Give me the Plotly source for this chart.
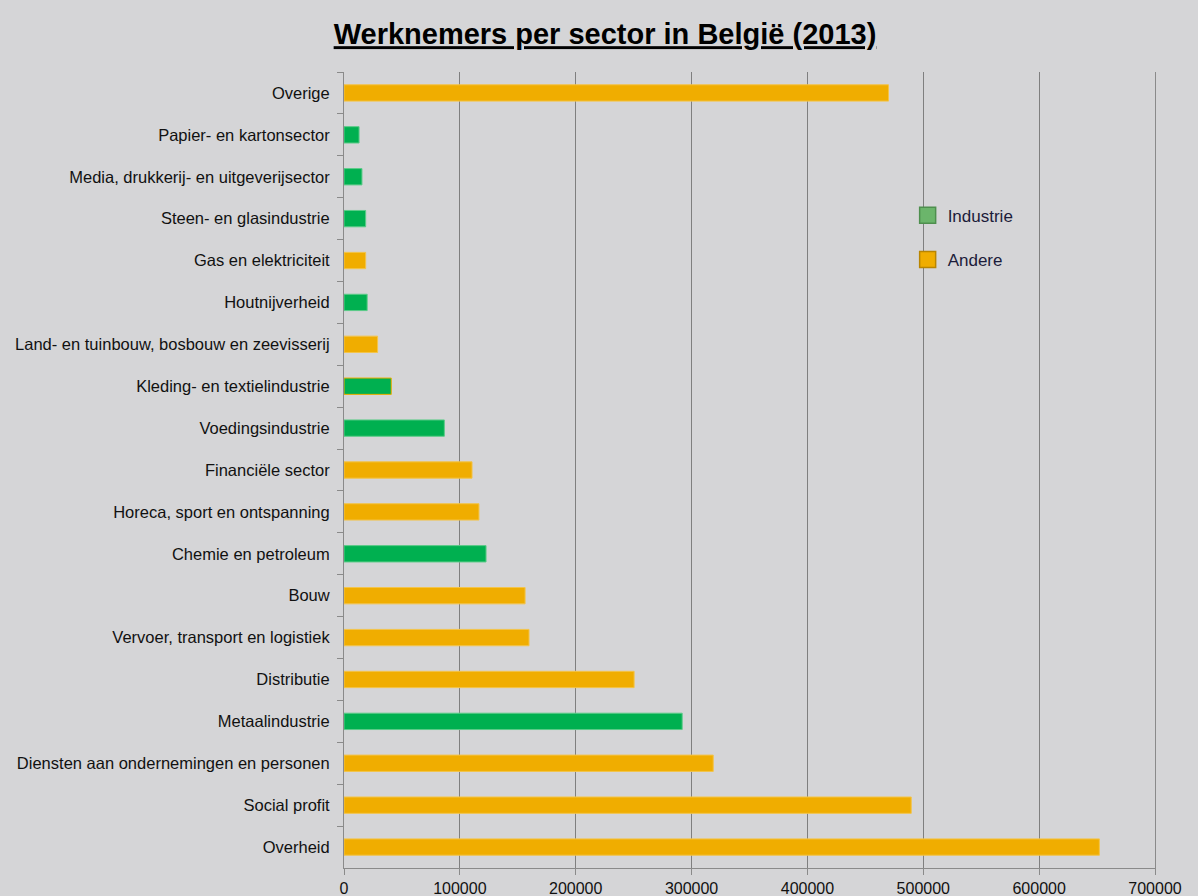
import plotly.graph_objects as go

categories = ["Overige", "Papier- en kartonsector", "Media, drukkerij- en uitgeverijsector",
              "Steen- en glasindustrie", "Gas en elektriciteit", "Houtnijverheid",
              "Land- en tuinbouw, bosbouw en zeevisserij", "Kleding- en textielindustrie",
              "Voedingsindustrie", "Financiële sector", "Horeca, sport en ontspanning",
              "Chemie en petroleum", "Bouw", "Vervoer, transport en logistiek", "Distributie",
              "Metaalindustrie", "Diensten aan ondernemingen en personen", "Social profit", "Overheid"]
values = [470000, 13000, 15500, 18700, 18700, 20000, 29000, 40800, 86600, 110500, 116500,
          122600, 156300, 159700, 250400, 291900, 318700, 489600, 652000]
groups = ["Andere", "Industrie", "Industrie", "Industrie", "Andere", "Industrie", "Andere",
          "Industrie", "Industrie", "Andere", "Andere", "Industrie", "Andere", "Andere",
          "Andere", "Industrie", "Andere", "Andere", "Andere"]
tick_vals = [0, 100000, 200000, 300000, 400000, 500000, 600000, 700000]

GREEN = "#00B050"
ORANGE = "#F0AD00"
bar_color = {"Industrie": GREEN, "Andere": ORANGE}
edge_color = {"Industrie": "#5CCB88", "Andere": "#F3C44A"}
legend_fill = {"Industrie": "#6BB56B", "Andere": "#F0AD00"}
legend_edge = {"Industrie": "#4E8F4E", "Andere": "#B98500"}

fig = go.Figure()
for g in ["Industrie", "Andere"]:
    xs = [v if gg == g else None for v, gg in zip(values, groups)]
    lines = []
    for c, gg in zip(categories, groups):
        if c == "Kleding- en textielindustrie":
            lines.append(ORANGE)
        else:
            lines.append(edge_color[gg])
    fig.add_trace(go.Bar(
        y=categories, x=xs, orientation="h", name=g,
        marker=dict(color=bar_color[g], line=dict(color=lines, width=1)),
        showlegend=False, hoverinfo="x+y",
    ))

for g in ["Industrie", "Andere"]:
    fig.add_trace(go.Scatter(
        x=[None], y=[None], mode="markers", name=g, legendgroup=g,
        marker=dict(symbol="square", size=16, color=legend_fill[g],
                    line=dict(color=legend_edge[g], width=1.5)),
        showlegend=True,
    ))

BG = "#D5D5D7"
fig.update_layout(
    width=1198, height=896,
    paper_bgcolor=BG, plot_bgcolor=BG,
    margin=dict(l=344, r=43, t=72, b=28, autoexpand=False),
    barmode="overlay", bargap=0.61,
    title=dict(text="<b><u>Werknemers per sector in België (2013)</u></b>",
               x=0.505, xanchor="center", y=0.962, yanchor="middle",
               font=dict(family="Liberation Sans, Arial", size=29, color="#000000")),
    font=dict(family="Liberation Sans, Arial", size=14, color="#1A1A1A"),
    legend=dict(x=0.695, y=0.842, xanchor="left", yanchor="top",
                bgcolor="rgba(0,0,0,0)", tracegroupgap=19,
                font=dict(size=17, color="#1C1C3A"), itemwidth=30),
    xaxis=dict(range=[0, 700000], tickvals=tick_vals, ticktext=[str(v) for v in tick_vals],
               showgrid=True, gridcolor="#7F7F7F", gridwidth=1, zeroline=False,
               showline=True, linecolor="#8A8A8A", linewidth=1,
               ticks="outside", ticklen=6, tickcolor="#8A8A8A",
               tickfont=dict(size=16, color="#111111"), fixedrange=True),
    yaxis=dict(autorange="reversed", type="category", tickson="boundaries",
               showline=True, linecolor="#8A8A8A", linewidth=1, mirror=True,
               ticks="outside", ticklen=6, tickcolor="#8A8A8A",
               showgrid=False, ticklabelstandoff=10,
               tickfont=dict(size=16.5, color="#111111")),
)

fig.write_html("out.html", config={"displayModeBar": False},
               post_script="document.body.style.margin='0';document.body.style.background='%s';" % BG)
